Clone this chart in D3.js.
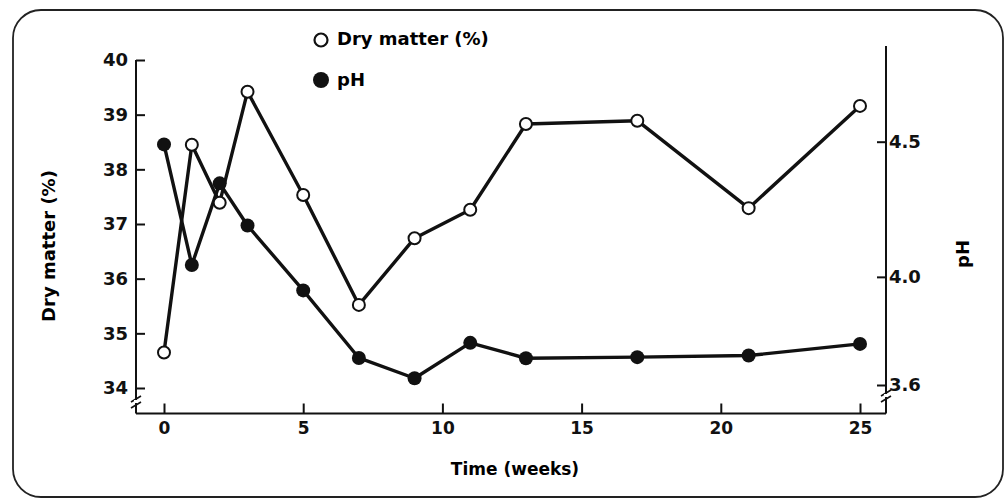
<!DOCTYPE html>
<html>
<head>
<meta charset="utf-8">
<script src="https://cdn.jsdelivr.net/npm/d3@7"></script>
<style>
    html, body { margin: 0; padding: 0; background: #fff; }
    svg { display: block; font-family: "DejaVu Sans", sans-serif; font-weight: bold; }
</style>
</head>
<body>
<div id="chart"></div>
<script>
// data
const weeks = [0, 1, 2, 3, 5, 7, 9, 11, 13, 17, 21, 25];
const dryMatter = [34.65, 38.45, 37.39, 39.42, 37.53, 35.52, 36.74, 37.26, 38.83, 38.89, 37.29, 39.16];
const pH = [4.49, 4.044, 4.346, 4.19, 3.95, 3.70, 3.625, 3.756, 3.699, 3.703, 3.709, 3.752];
const xTicks = [0, 5, 10, 15, 20, 25];
const dmTicks = [34, 35, 36, 37, 38, 39, 40];
const phTicks = [3.6, 4.0, 4.5];

document.addEventListener('DOMContentLoaded', () => {
    const width = 1006, height = 503;
    const svg = d3.select('#chart').append('svg')
        .attr('width', width)
        .attr('height', height);

    // rounded frame
    svg.append('rect')
        .attr('x', 13).attr('y', 10)
        .attr('width', 990).attr('height', 487)
        .attr('rx', 28)
        .attr('fill', 'none')
        .attr('stroke', '#222')
        .attr('stroke-width', 1.8);

    const baseY = 413.5, leftX = 136, rightX = 886;

    const x = d3.scaleLinear().domain([0, 25]).range([164, 860]);
    const yDM = d3.scaleLinear().domain([34, 40]).range([388, 60]);
    const yPH = d3.scaleLinear().domain([3.6, 4.5]).range([385, 141.7]);

    // axis lines
    const axisStroke = '#111';
    svg.append('line')
        .attr('x1', leftX).attr('x2', leftX)
        .attr('y1', yDM(40)).attr('y2', baseY)
        .attr('stroke', axisStroke).attr('stroke-width', 2);
    svg.append('line')
        .attr('x1', rightX).attr('x2', rightX)
        .attr('y1', 46).attr('y2', baseY)
        .attr('stroke', axisStroke).attr('stroke-width', 2);
    svg.append('line')
        .attr('x1', leftX).attr('x2', rightX)
        .attr('y1', baseY).attr('y2', baseY)
        .attr('stroke', axisStroke).attr('stroke-width', 2);

    // axes (ticks point inward)
    const gx = svg.append('g')
        .attr('transform', `translate(0,${baseY})`)
        .call(d3.axisBottom(x).tickValues(xTicks).tickFormat(d3.format('d'))
            .tickSizeInner(-10).tickSizeOuter(0).tickPadding(8.7));

    const gl = svg.append('g')
        .attr('transform', `translate(${leftX},0)`)
        .call(d3.axisLeft(yDM).tickValues(dmTicks).tickFormat(d3.format('d'))
            .tickSizeInner(-9).tickSizeOuter(0).tickPadding(8));

    const gr = svg.append('g')
        .attr('transform', `translate(${rightX},0)`)
        .call(d3.axisRight(yPH).tickValues(phTicks).tickFormat(d3.format('.1f'))
            .tickSizeInner(-9).tickSizeOuter(0).tickPadding(3));

    [gx, gl, gr].forEach(g => {
        g.select('.domain').remove();
        g.selectAll('.tick line').attr('stroke', axisStroke).attr('stroke-width', 2);
        g.selectAll('.tick text')
            .attr('fill', '#111')
            .style('font-family', '"DejaVu Sans", sans-serif')
            .style('font-weight', 'bold')
            .style('font-size', '18px');
    });
    gx.selectAll('.tick text').style('font-size', '17px');

    // axis break marks
    const breakMark = (cx, cy) => {
        [-3, 3].forEach(off => {
            svg.append('line')
                .attr('x1', cx - 5).attr('y1', cy + off + 3)
                .attr('x2', cx + 5).attr('y2', cy + off - 3)
                .attr('stroke', axisStroke).attr('stroke-width', 1.6);
        });
    };
    breakMark(leftX, 402);
    breakMark(rightX, 396);
    // little gap on the axes between the break marks
    svg.append('rect').attr('x', leftX - 2).attr('y', 400).attr('width', 4).attr('height', 3).attr('fill', '#fff');
    svg.append('rect').attr('x', rightX - 2).attr('y', 394).attr('width', 4).attr('height', 3).attr('fill', '#fff');

    // axis titles
    svg.append('text')
        .attr('x', 515).attr('y', 475)
        .attr('text-anchor', 'middle')
        .style('font-size', '17px')
        .text('Time (weeks)');

    svg.append('text')
        .attr('transform', 'translate(48,246) rotate(-90)')
        .attr('text-anchor', 'middle')
        .attr('dominant-baseline', 'central')
        .style('font-size', '18px')
        .text('Dry matter (%)');

    svg.append('text')
        .attr('transform', 'translate(962,254) rotate(-90)')
        .attr('text-anchor', 'middle')
        .attr('dominant-baseline', 'central')
        .style('font-size', '18px')
        .text('pH');

    // series
    const dmData = weeks.map((w, i) => ({ w, v: dryMatter[i] }));
    const phData = weeks.map((w, i) => ({ w, v: pH[i] }));

    const dmLine = d3.line().x(d => x(d.w)).y(d => yDM(d.v));
    const phLine = d3.line().x(d => x(d.w)).y(d => yPH(d.v));

    svg.append('path').datum(phData)
        .attr('d', phLine)
        .attr('fill', 'none').attr('stroke', '#111').attr('stroke-width', 3.4)
        .attr('stroke-linejoin', 'round');
    svg.append('path').datum(dmData)
        .attr('d', dmLine)
        .attr('fill', 'none').attr('stroke', '#111').attr('stroke-width', 3.4)
        .attr('stroke-linejoin', 'round');

    svg.append('g').selectAll('circle')
        .data(phData)
        .enter().append('circle')
        .attr('cx', d => x(d.w)).attr('cy', d => yPH(d.v))
        .attr('r', 7)
        .attr('fill', '#111');

    svg.append('g').selectAll('circle')
        .data(dmData)
        .enter().append('circle')
        .attr('cx', d => x(d.w)).attr('cy', d => yDM(d.v))
        .attr('r', 6)
        .attr('fill', '#fff')
        .attr('stroke', '#111').attr('stroke-width', 2);

    // legend
    svg.append('circle')
        .attr('cx', 321).attr('cy', 40).attr('r', 6.5)
        .attr('fill', '#fff').attr('stroke', '#111').attr('stroke-width', 2.2);
    svg.append('text')
        .attr('x', 337).attr('y', 45)
        .style('font-size', '18px')
        .text('Dry matter (%)');
    svg.append('circle')
        .attr('cx', 321).attr('cy', 80).attr('r', 8)
        .attr('fill', '#111');
    svg.append('text')
        .attr('x', 337).attr('y', 86)
        .style('font-size', '18px')
        .text('pH');
});
</script>
</body>
</html>
